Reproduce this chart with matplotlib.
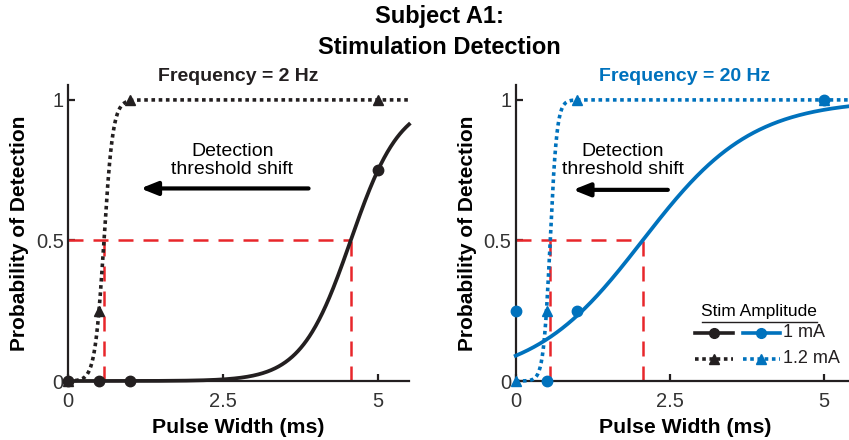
import numpy as np
import matplotlib
matplotlib.use("Agg")
import matplotlib.pyplot as plt
from matplotlib.lines import Line2D

plt.rcParams['font.family'] = ['Liberation Sans', 'DejaVu Sans']

# ---- data ----
pulse_widths = [0, 0.5, 1, 5]
# 2 Hz
hz2_1mA = [0, 0, 0, 0.75]
hz2_12mA = [0, 0.25, 1, 1]
# 20 Hz
hz20_1mA = [0.25, 0, 0.25, 1]
hz20_12mA = [0, 0.25, 1, 1]
# psychometric (logistic) fit parameters: threshold (50%), slope scale
fit_2hz_1mA = (4.56, 0.40)
fit_2hz_12mA = (0.58, 0.073)
fit_20hz_1mA = (2.06, 0.89)
fit_20hz_12mA = (0.56, 0.055)

xticks = [0, 2.5, 5]
xticklabels = ["0", "2.5", "5"]
yticks = [0, 0.5, 1]
yticklabels = ["0", "0.5", "1"]

BLACK = "#231F20"
BLUE = "#0072BD"
RED = "#E8262B"


def logistic(x, p):
    t, s = p
    return 1.0 / (1.0 + np.exp(-(x - t) / s))


fig = plt.figure(figsize=(8.49, 4.40), dpi=100)
ax1 = fig.add_axes([68/849, 1-381/440, 341/849, 296/440])
ax2 = fig.add_axes([515.7/849, 1-381/440, 338.8/849, 296/440])

xs = np.linspace(0, 5.5, 600)

panels = [
    (ax1, BLACK, hz2_1mA, hz2_12mA, fit_2hz_1mA, fit_2hz_12mA, "Frequency = 2 Hz",
     (3.88, 1.17, 0.685), (2.65, 0.785)),
    (ax2, BLUE, hz20_1mA, hz20_12mA, fit_20hz_1mA, fit_20hz_12mA, "Frequency = 20 Hz",
     (2.47, 0.93, 0.68), (1.74, 0.785)),
]

for ax, col, d1, d12, f1, f12, title, arr, txt in panels:
    ax.set_xlim(0, 5.5)
    ax.set_ylim(0, 1.053)
    # red dashed threshold lines
    for f in (f1, f12):
        ax.plot([f[0], f[0]], [0, 0.5], color=RED, lw=1.8, dashes=(6, 4), zorder=2)
    ax.plot([0, f1[0]], [0.5, 0.5], color=RED, lw=1.8, dashes=(6, 4), zorder=2)
    # fits
    ax.plot(xs, logistic(xs, f12), color=col, lw=2.6, linestyle=(0, (1, 1)),
            zorder=3, clip_on=False)
    ax.plot(xs, logistic(xs, f1), color=col, lw=2.7, zorder=3, clip_on=False)
    # data points
    ax.plot(pulse_widths, d12, linestyle='none', marker='^', ms=7.5, color=col,
            zorder=4, clip_on=False)
    ax.plot(pulse_widths, d1, linestyle='none', marker='o', ms=7.5, color=col,
            zorder=5, clip_on=False)
    # arrow + text
    ax.annotate("", xy=(arr[1], arr[2]), xytext=(arr[0], arr[2]),
                arrowprops=dict(arrowstyle="-|>,head_length=1.0,head_width=0.4",
                                color="black", lw=3, shrinkA=0, shrinkB=0))
    ax.text(txt[0], txt[1], "Detection\nthreshold shift", ha='center', va='center',
            fontsize=14, color="black", linespacing=1.12)
    # axes styling
    for sp in ['top', 'right']:
        ax.spines[sp].set_visible(False)
    for sp in ['left', 'bottom']:
        ax.spines[sp].set_linewidth(1.6)
        ax.spines[sp].set_color(BLACK)
    ax.set_xticks(xticks)
    ax.set_xticklabels(xticklabels)
    ax.set_yticks(yticks)
    ax.set_yticklabels(yticklabels)
    ax.tick_params(direction='in', length=5, width=1.6, labelsize=14.5,
                   colors=BLACK)
    ax.tick_params(axis='x', pad=8)
    ax.tick_params(axis='y', pad=3)
    for lab in ax.get_xticklabels() + ax.get_yticklabels():
        lab.set_color("#333333")
    ax.set_xlabel("Pulse Width (ms)", fontsize=15.3, fontweight='bold', labelpad=5)
    ax.set_ylabel("Probability of Detection", fontsize=15, fontweight='bold', labelpad=5)
    ax.set_title(title, fontsize=14, fontweight='bold', color=col, pad=3)

fig.text(0.518, 0.962, "Subject A1:", ha='center', va='center', fontsize=17, fontweight='bold')
fig.text(0.518, 0.893, "Stimulation Detection", ha='center', va='center', fontsize=17, fontweight='bold')

# ---- custom legend ----
T = ax2.transAxes
ax2.text(0.718, 0.234, "Stim Amplitude", transform=T, ha='center', va='center', fontsize=12.5)
ax2.add_line(Line2D([0.549, 0.888], [0.198, 0.198], transform=T, color=BLACK, lw=1.0, clip_on=False))
rows = [(0.163, '-', 'o', "1 mA"), (0.075, (0, (1, 1)), '^', "1.2 mA")]
for y, ls, mk, lab in rows:
    for (x0, x1), c in (((0.530, 0.642), BLACK), ((0.671, 0.780), BLUE)):
        ax2.add_line(Line2D([x0, x1], [y, y], transform=T, color=c, lw=2.6, linestyle=ls,
                            clip_on=False))
        ax2.add_line(Line2D([(x0 + x1) / 2], [y], transform=T, color=c, marker=mk, ms=7,
                            linestyle='none', clip_on=False))
    ax2.text(0.79, y, lab, transform=T, ha='left', va='center', fontsize=13, color=BLACK)

fig.savefig("out.png", dpi=100)
